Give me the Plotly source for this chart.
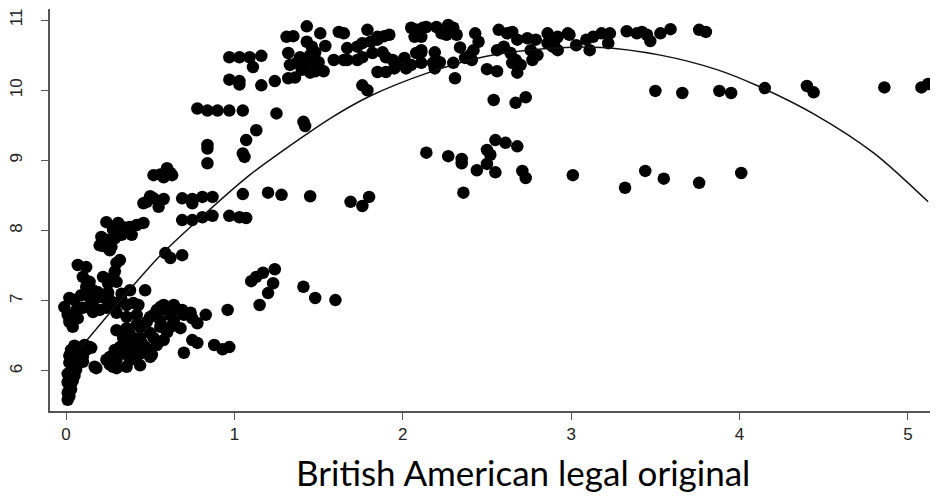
import plotly.graph_objects as go

# ---- data ----
streak_x = [0.01,0.02,0.01,0.03,0.02,0.01,0.04,0.02,0.05,0.01,0.03,0.06,0.04,0.07,0.02,0.05,0.08,0.02,0.06,0.09,0.03,0.07,0.12,0.15,0.10,0.10,0.17,0.05,0.11,0.14]
streak_y = [5.59,5.64,5.69,5.74,5.79,5.84,5.86,5.90,5.93,5.96,6.00,6.02,6.06,6.10,6.12,6.16,6.18,6.22,6.25,6.27,6.30,6.33,6.30,6.33,6.20,6.13,6.06,6.36,6.37,6.34]

upper_left_x = [0.07,0.12,0.30,0.32,0.10,0.14,0.12,0.16,0.22,0.28,0.25,0.30,0.38,0.47,0.02,0.05,-0.01,0.01,0.02,0.04,0.09,0.14,0.18,0.10,0.16,0.20,0.24,0.28,0.22,0.26,0.30,0.33,0.36,0.30,0.36,0.42,0.40,0.43,0.42,0.36,0.30,0.07,0.06,0.19,0.25,0.33,0.15,0.29]
upper_left_y = [7.51,7.48,7.54,7.58,7.34,7.27,7.20,7.15,7.34,7.34,7.25,7.27,7.15,7.15,7.04,7.01,6.91,6.80,6.70,6.63,7.08,7.05,7.04,6.90,6.84,6.87,6.90,6.91,7.05,7.01,6.97,7.01,6.94,6.83,6.77,6.80,6.97,6.94,6.66,6.61,6.58,6.75,6.86,7.12,7.12,7.10,6.95,7.42]

lower_x = [0.56,0.60,0.54,0.50,0.48,0.44,0.56,0.50,0.44,0.40,0.36,0.32,0.29,0.58,0.54,0.50,0.46,0.26,0.30,0.26,0.30,0.24,0.38,0.42,0.36,0.44,0.50,0.47,0.18,0.28,0.58,0.64,0.54,0.52,0.69,0.74,0.75,0.78,0.83,0.62,0.68,0.96,0.75,0.78,0.70,0.88,0.93,0.97,0.48,0.51,0.34,0.40,0.45,0.52,0.60,0.64,0.70,0.66,0.38,0.34,0.62,0.56]
lower_y = [6.91,6.87,6.80,6.77,6.70,6.63,6.63,6.54,6.48,6.44,6.40,6.34,6.30,6.44,6.37,6.30,6.26,6.20,6.16,6.09,6.04,6.16,6.16,6.20,6.06,6.08,6.20,6.34,6.04,6.06,6.94,6.94,6.87,6.80,6.87,6.83,6.75,6.68,6.80,6.63,6.61,6.87,6.44,6.40,6.26,6.37,6.31,6.34,6.26,6.23,6.25,6.30,6.40,6.47,6.55,6.72,6.80,6.88,6.52,6.47,6.80,6.72]

rise_x = [0.59,0.62,0.69,0.31,0.36,0.42,0.46,0.39,0.33,0.29,0.25,0.22,0.27,0.20,0.24,0.24,0.28,0.35,0.38,0.32,0.21,0.26,
          0.60,0.62,0.52,0.58,0.63,0.56,0.50,0.48,0.52,0.58,0.55,0.46,0.69,0.75,0.81,0.87,0.75,
          0.69,0.75,0.81,0.87,0.97,1.03,1.07,1.05,0.84,0.84,0.84,1.07,1.13,1.05,1.06,1.25,
          0.78,0.84,0.90,0.97,1.05,0.97,1.03,1.09,1.16,1.11,0.97,1.03,1.03,1.16,1.24,1.41,1.42,
          1.20,1.28,1.45,1.69,1.76,1.80,1.24,1.17,1.10,1.13,1.23,1.20,1.15,1.41,1.48,1.60]
rise_y = [7.68,7.61,7.65,8.11,8.04,8.08,8.11,7.94,7.94,7.89,7.82,7.78,7.77,7.79,7.87,8.12,8.01,8.04,8.05,7.97,7.91,7.72,
          8.89,8.82,8.79,8.76,8.79,8.80,8.49,8.41,8.46,8.45,8.34,8.39,8.46,8.45,8.48,8.48,8.39,
          8.15,8.15,8.19,8.21,8.21,8.19,8.18,8.52,9.22,9.17,8.96,9.29,9.43,9.10,9.05,9.67,
          9.74,9.71,9.71,9.71,9.71,10.47,10.47,10.47,10.49,10.33,10.15,10.13,10.08,10.07,10.13,9.55,9.49,
          8.54,8.51,8.49,8.41,8.35,8.48,7.45,7.40,7.28,7.34,7.25,7.11,6.94,7.20,7.04,7.01]

top_x = [1.31,1.35,1.43,1.51,1.62,1.65,1.43,1.46,1.54,1.32,1.39,1.45,1.48,1.33,1.37,1.42,1.48,1.50,1.40,1.45,1.48,1.53,1.32,1.36,1.59,1.65,1.67,1.73,1.76,1.79,1.85,1.89,1.92,1.81,1.85,
         1.67,1.73,1.76,1.82,1.88,1.90,1.94,1.96,1.85,1.90,1.95,2.02,2.05,2.11,1.76,1.79,2.01,2.08,2.11,
         2.05,2.08,2.12,2.07,2.11,2.14,2.20,2.27,2.30,2.32,2.26,2.23,2.11,2.19,2.18,2.22,2.19,2.30,
         2.31,2.34,2.43,2.45,2.42,2.40,2.37,2.41,2.57,2.62,2.65,2.56,2.60,2.64,2.67,2.65,2.70,2.50,2.56,2.68,
         2.68,2.74,2.79,2.76,2.80,2.77,2.86,2.92,2.98,2.99,2.86,2.89,2.92,2.90,
         3.03,3.09,3.13,3.18,3.23,3.22,3.11,3.33,3.39,3.42,3.45,3.47,3.53,3.59,3.76,3.80]
top_y = [10.76,10.77,10.91,10.81,10.83,10.81,10.69,10.62,10.63,10.53,10.47,10.50,10.54,10.36,10.39,10.39,10.39,10.40,10.29,10.25,10.27,10.27,10.17,10.18,10.43,10.43,10.60,10.62,10.67,10.86,10.76,10.77,10.79,10.69,10.72,
         10.43,10.43,10.47,10.53,10.54,10.47,10.43,10.39,10.26,10.26,10.31,10.31,10.36,10.39,10.07,10.00,10.46,10.53,10.54,
         10.89,10.86,10.89,10.76,10.76,10.90,10.90,10.93,10.89,10.79,10.79,10.81,10.57,10.54,10.39,10.40,10.31,10.39,
         10.17,10.61,10.81,10.69,10.57,10.50,10.46,10.43,10.86,10.81,10.83,10.57,10.62,10.53,10.43,10.39,10.36,10.30,10.27,10.25,
         10.72,10.74,10.72,10.57,10.50,10.43,10.81,10.76,10.81,10.79,10.67,10.62,10.57,10.69,
         10.64,10.72,10.76,10.81,10.81,10.67,10.57,10.84,10.81,10.83,10.79,10.70,10.81,10.87,10.86,10.83]

right_x = [2.54,2.67,2.73,2.14,2.27,2.35,2.35,2.55,2.61,2.68,2.50,2.52,2.44,2.50,2.55,2.71,2.73,3.01,2.36,
           3.32,3.44,3.55,3.76,4.01,3.50,3.66,3.88,3.95,4.15,4.40,4.44,4.86,5.08,5.12]
right_y = [9.86,9.82,9.90,9.11,9.06,9.02,8.96,9.29,9.25,9.20,9.15,9.08,8.86,8.95,8.83,8.85,8.75,8.79,8.54,
           8.61,8.85,8.74,8.68,8.82,9.99,9.96,9.99,9.96,10.03,10.06,9.97,10.04,10.04,10.09]

curve_x = [0.09,0.55,0.84,1.09,1.39,1.57,1.80,2.14,2.49,2.84,3.18,3.53,3.87,4.10,4.45,4.80,5.12]
curve_y = [6.34,7.62,8.27,8.79,9.31,9.60,9.91,10.24,10.48,10.59,10.61,10.50,10.29,10.07,9.65,9.10,8.41]

x_ticks = [0, 1, 2, 3, 4, 5]
y_ticks = [6, 7, 8, 9, 10, 11]
x_title = "British American legal original"

all_x = streak_x + upper_left_x + lower_x + rise_x + top_x + right_x
all_y = streak_y + upper_left_y + lower_y + rise_y + top_y + right_y

fig = go.Figure()
fig.add_trace(go.Scatter(x=all_x, y=all_y, mode="markers",
                         marker=dict(color="black", size=12.5, line=dict(width=0)),
                         showlegend=False, hoverinfo="skip"))
fig.add_trace(go.Scatter(x=curve_x, y=curve_y, mode="lines",
                         line=dict(color="#111111", width=1.5, shape="spline", smoothing=0.8),
                         showlegend=False, hoverinfo="skip"))

axis_common = dict(showgrid=False, zeroline=False, showline=True, linecolor="#555555", linewidth=1.5,
                   ticks="outside", ticklen=7, tickwidth=1, tickcolor="#555555", automargin=False,
                   tickfont=dict(family="Liberation Sans, Arial, sans-serif", size=17, color="#222222"))

fig.update_xaxes(range=[-0.095, 5.131], tickvals=x_ticks, ticktext=[str(v) for v in x_ticks], **axis_common)
fig.update_yaxes(range=[5.43, 11.157], tickvals=y_ticks, ticktext=[str(v) for v in y_ticks],
                 tickangle=-90, ticklabelstandoff=12, **axis_common)

fig.add_annotation(text=x_title, xref="paper", yref="paper", x=0.5375, y=-0.152,
                   xanchor="center", yanchor="middle", showarrow=False,
                   font=dict(family="Lato, Open Sans, sans-serif", size=35, color="black"))

# the page body adds an 8px offset, so the figure is 8px smaller on each axis
fig.update_layout(width=932, height=491, margin=dict(l=42, r=10, t=1, b=88),
                  paper_bgcolor="white", plot_bgcolor="white")

fig.write_html("out.html")
